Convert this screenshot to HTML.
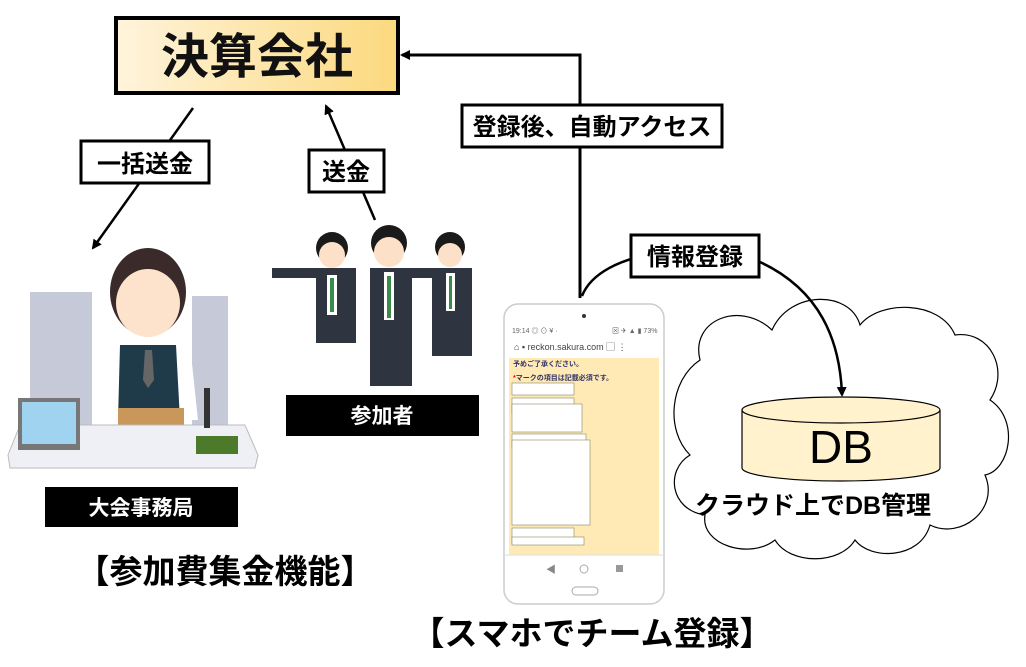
<!DOCTYPE html>
<html><head><meta charset="utf-8"><style>
html,body{margin:0;padding:0;background:#fff;}
svg{display:block;font-family:"Liberation Sans","Noto Sans CJK JP",sans-serif;font-weight:bold;}
</style></head><body>
<svg width="1026" height="667" viewBox="0 0 1026 667" xmlns="http://www.w3.org/2000/svg">
<defs>
<linearGradient id="g1" x1="0" x2="1"><stop offset="0" stop-color="#fff4dc"/><stop offset="1" stop-color="#fbd97e"/></linearGradient>
<marker id="ar" markerWidth="10" markerHeight="10" refX="8" refY="5" orient="auto" markerUnits="userSpaceOnUse"><path d="M0,0 L10,5 L0,10 z" fill="#000"/></marker>
</defs>
<!-- title box -->
<rect x="116" y="18" width="282" height="75" fill="url(#g1)" stroke="#000" stroke-width="4"/>
<text x="257" y="73" font-size="48" text-anchor="middle" fill="#111">決算会社</text>
<!-- cloud -->
<path d="M700,360 C690,320 740,300 772,330 C790,290 850,290 860,325 C880,300 940,300 955,335 C990,330 1010,370 990,400 C1020,420 1010,470 985,475 C1000,510 960,540 930,525 C920,560 870,560 855,540 C840,565 790,565 775,540 C750,560 700,545 705,515 C670,510 665,470 690,455 C665,430 670,380 700,360 z" fill="#fff" stroke="#000" stroke-width="1.2"/>
<path d="M742,410 L742,468 A99,13 0 0 0 940,468 L940,410" fill="#fff2cc" stroke="#000" stroke-width="1.2"/>
<ellipse cx="841" cy="410" rx="99" ry="13" fill="#fff2cc" stroke="#000" stroke-width="1.2"/>
<text x="841" y="463" font-size="46" font-weight="normal" text-anchor="middle">DB</text>
<text x="813" y="514" font-size="25" text-anchor="middle">クラウド上でDB管理</text>
<!-- arrows -->
<line x1="193" y1="108" x2="93" y2="248" stroke="#000" stroke-width="2.5" marker-end="url(#ar)"/>
<line x1="375" y1="220" x2="326" y2="106" stroke="#000" stroke-width="2.5" marker-end="url(#ar)"/>
<polyline points="580,298 580,55 402,55" fill="none" stroke="#000" stroke-width="3" marker-end="url(#ar)"/>
<path d="M582,296 C600,250 700,240 760,262 C820,290 840,340 842,395" fill="none" stroke="#000" stroke-width="2.5" marker-end="url(#ar)"/>
<!-- labels -->
<rect x="81" y="141" width="128" height="42" fill="#fff" stroke="#000" stroke-width="3"/>
<text x="145" y="172" font-size="24" text-anchor="middle">一括送金</text>
<rect x="309" y="150" width="75" height="42" fill="#fff" stroke="#000" stroke-width="3"/>
<text x="346" y="180" font-size="24" text-anchor="middle">送金</text>
<rect x="462" y="105" width="260" height="42" fill="#fff" stroke="#000" stroke-width="3"/>
<text x="592" y="135" font-size="24" text-anchor="middle">登録後、自動アクセス</text>
<rect x="631" y="235" width="128" height="42" fill="#fff" stroke="#000" stroke-width="3"/>
<text x="695" y="265" font-size="24" text-anchor="middle">情報登録</text>
<!-- phone -->
<rect x="504" y="304" width="160" height="300" rx="14" fill="#fff" stroke="#ccc" stroke-width="1.5"/>
<circle cx="584" cy="316" r="2" fill="#333"/>
<text x="512" y="333" font-size="7" font-weight="normal" fill="#666">19:14 ◎ ⊙ ¥ ·</text>
<text x="612" y="333" font-size="7" font-weight="normal" fill="#666">⊠ ✈ ▲ ▮ 73%</text>
<text x="514" y="350" font-size="9" font-weight="normal" fill="#444">⌂   ▪ reckon.sakura.com   ▢ ⋮</text>
<rect x="509" y="358" width="150" height="197" fill="#ffeab5"/>
<text x="513" y="366" font-size="7" fill="#336">予めご了承ください。</text>
<text x="513" y="380" font-size="7" fill="#336"><tspan fill="red">*</tspan>マークの項目は記載必須です。</text>
<g fill="#fff" stroke="#886" stroke-width="0.6">
<rect x="512" y="383" width="62" height="12"/><rect x="512" y="398" width="62" height="16"/>
<rect x="512" y="404" width="70" height="28"/><rect x="512" y="434" width="74" height="14"/>
<rect x="512" y="440" width="78" height="85"/><rect x="512" y="528" width="62" height="16"/>
<rect x="512" y="537" width="72" height="8"/>
</g>
<line x1="505" y1="555" x2="663" y2="555" stroke="#ddd"/>
<text x="546" y="573" font-size="10" font-weight="normal" fill="#888">◀</text>
<circle cx="584" cy="569" r="4" fill="none" stroke="#aaa"/>
<rect x="616" y="565" width="7" height="7" fill="#999"/>
<rect x="572" y="587" width="26" height="8" rx="4" fill="none" stroke="#aaa"/>
<!-- woman desk illustration -->
<rect x="30" y="292" width="62" height="140" fill="#c5c9d8"/>
<rect x="192" y="296" width="36" height="140" fill="#c5c9d8"/>
<ellipse cx="148" cy="292" rx="38" ry="44" fill="#3a2a2a"/>
<ellipse cx="148" cy="303" rx="32" ry="34" fill="#fde3cc"/>
<path d="M108,345 Q148,330 190,345 L198,420 L100,420 z" fill="#fff"/>
<path d="M120,345 L176,345 L180,420 L118,420 z" fill="#1f3b4a"/>
<path d="M145,350 L152,350 L154,380 L148,388 L143,380 z" fill="#666"/>
<rect x="118" y="408" width="66" height="46" fill="#c9975a"/>
<path d="M8,455 L20,425 L245,425 L258,455 L255,468 L10,468 z" fill="#eef0f5" stroke="#bbb"/>
<rect x="18" y="398" width="62" height="52" fill="#777"/>
<rect x="22" y="402" width="54" height="42" fill="#9fd3ef"/>
<rect x="204" y="388" width="6" height="40" fill="#333"/>
<rect x="196" y="436" width="42" height="18" fill="#4d7a2a"/>
<!-- men illustration -->
<g fill="#2e3440">
<rect x="316" y="268" width="40" height="75"/>
<rect x="370" y="268" width="42" height="118"/>
<rect x="432" y="268" width="40" height="88"/>
<rect x="272" y="268" width="50" height="10"/>
<rect x="405" y="268" width="36" height="10"/>
</g>
<g fill="#1a1a1a"><circle cx="332" cy="248" r="16"/><circle cx="389" cy="243" r="18"/><circle cx="450" cy="247" r="15"/></g>
<g fill="#fde0c8"><circle cx="332" cy="255" r="13"/><circle cx="389" cy="252" r="15"/><circle cx="450" cy="255" r="12"/></g>
<g fill="#fff"><rect x="327" y="275" width="10" height="40"/><rect x="384" y="272" width="10" height="48"/><rect x="446" y="273" width="9" height="38"/></g>
<g fill="#3a8a4a"><rect x="330" y="278" width="4" height="34"/><rect x="387" y="276" width="4" height="42"/><rect x="449" y="276" width="3" height="33"/></g>
<!-- black labels -->
<rect x="45" y="487" width="193" height="40" fill="#000"/>
<text x="141" y="515" font-size="21" fill="#fff" text-anchor="middle">大会事務局</text>
<rect x="286" y="395" width="193" height="41" fill="#000"/>
<text x="382" y="423" font-size="21" fill="#fff" text-anchor="middle">参加者</text>
<!-- section titles -->
<text x="225" y="583" font-size="33" text-anchor="middle">【参加費集金機能】</text>
<text x="592" y="645" font-size="33" text-anchor="middle">【スマホでチーム登録】</text>
</svg>
</body></html>
